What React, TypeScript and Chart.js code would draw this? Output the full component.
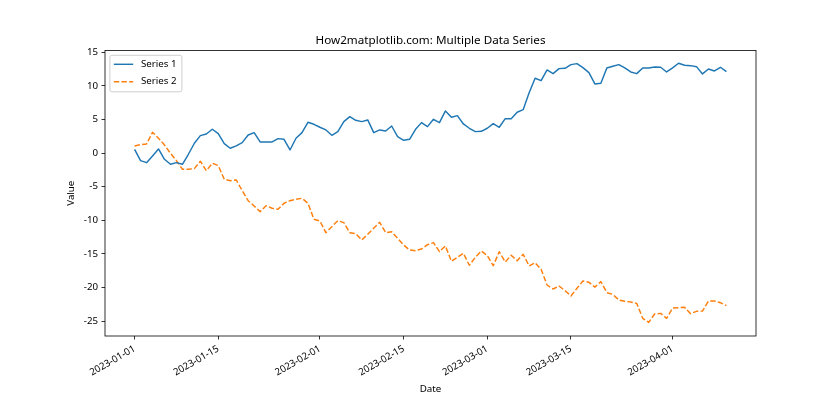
import React, { useEffect, useRef } from 'react';
import { Chart, registerables } from 'chart.js';

Chart.register(...registerables);

// ---- data ----
const dayIndex: number[] = Array.from({ length: 100 }, (_, i) => i); // days since 2023-01-01
const series1: number[] = [
  0.56, -1.13, -1.43, -0.43, 0.61, -0.93, -1.67, -1.43, -1.67, -0.18,
  1.46, 2.59, 2.84, 3.54, 2.89, 1.4, 0.71, 1.06, 1.55, 2.69,
  3.04, 1.65, 1.65, 1.65, 2.15, 2.05, 0.46, 2.2, 3.04, 4.58,
  4.28, 3.84, 3.44, 2.65, 3.19, 4.68, 5.42, 4.88, 4.68, 4.93,
  3.04, 3.44, 3.29, 4.03, 2.44, 1.9, 2.05, 3.54, 4.53, 3.93,
  5.03, 4.53, 6.27, 5.33, 5.57, 4.33, 3.69, 3.19, 3.24, 3.69,
  4.38, 3.84, 5.12, 5.12, 6.07, 6.46, 8.99, 11.13, 10.78, 12.37,
  11.82, 12.57, 12.62, 13.16, 13.31, 12.71, 11.97, 10.29, 10.39, 12.67,
  12.92, 13.16, 12.67, 12.07, 11.82, 12.67, 12.67, 12.82, 12.77, 12.07,
  12.67, 13.37, 13.07, 13.01, 12.86, 11.78, 12.52, 12.22, 12.77, 12.12,
];
const series2: number[] = [
  1.06, 1.25, 1.35, 3.09, 2.2, 1.2, -0.03, -1.13, -2.41, -2.41,
  -2.32, -1.22, -2.62, -1.52, -1.87, -3.9, -4.11, -4.0, -5.6, -7.09,
  -7.88, -8.72, -7.83, -8.22, -8.37, -7.47, -7.09, -6.88, -6.73, -7.47,
  -9.86, -10.11, -11.85, -10.96, -10.06, -10.36, -11.85, -12.0, -12.94, -12.09,
  -11.2, -10.3, -11.85, -11.7, -12.69, -13.68, -14.43, -14.53, -14.28, -13.64,
  -13.34, -14.68, -13.83, -16.11, -15.52, -14.92, -16.7, -15.52, -14.58, -15.27,
  -16.76, -14.68, -16.21, -15.22, -16.02, -15.07, -16.81, -16.32, -17.3, -19.64,
  -20.23, -19.79, -20.48, -21.27, -20.13, -19.04, -19.24, -19.95, -19.14, -20.78,
  -21.03, -21.87, -22.07, -22.17, -22.37, -24.6, -25.2, -23.95, -23.86, -24.6,
  -23.06, -23.01, -22.96, -23.91, -23.56, -23.51, -22.02, -22.02, -22.27, -22.72,
];
const seriesNames = ['Series 1', 'Series 2'];
const xTickDays = [0, 14, 31, 45, 59, 73, 90];
const xTickLabels = ['2023-01-01', '2023-01-15', '2023-02-01', '2023-02-15', '2023-03-01', '2023-03-15', '2023-04-01'];
const yTickValues = [-25, -20, -15, -10, -5, 0, 5, 10, 15];
const chartTitle = 'How2matplotlib.com: Multiple Data Series';
const xTitle = 'Date';
const yTitle = 'Value';

const FONT = "'Noto Sans', 'DejaVu Sans', sans-serif";
const C1 = '#1f77b4';
const C2 = '#ff7f0e';
const DASH = [5.4, 2.3];

const decorPlugin = {
  id: 'mplDecor',
  afterDatasetsDraw(chart: any) {
    const { ctx, chartArea: a } = chart;
    ctx.save();
    // frame (all four spines)
    ctx.strokeStyle = '#000';
    ctx.lineWidth = 0.8;
    ctx.setLineDash([]);
    ctx.strokeRect(a.left, a.top, a.right - a.left, a.bottom - a.top);

    // legend (upper left, inside)
    const lx = a.left + 4.9;
    const ly = a.top + 4.9;
    const lw = 72;
    const lh = 36.5;
    ctx.beginPath();
    (ctx as any).roundRect(lx, ly, lw, lh, 2);
    ctx.fillStyle = 'rgba(255,255,255,0.8)';
    ctx.fill();
    ctx.strokeStyle = '#cccccc';
    ctx.lineWidth = 0.97;
    ctx.stroke();

    const rows = [
      { y: ly + 9.0, color: C1, dash: [] as number[], label: seriesNames[0] },
      { y: ly + 26.4, color: C2, dash: DASH, label: seriesNames[1] },
    ];
    rows.forEach((r) => {
      ctx.beginPath();
      ctx.strokeStyle = r.color;
      ctx.lineWidth = 1.46;
      ctx.setLineDash(r.dash);
      ctx.moveTo(lx + 3.9, r.y);
      ctx.lineTo(lx + 3.9 + 19.4, r.y);
      ctx.stroke();
      ctx.setLineDash([]);
      ctx.fillStyle = '#000';
      ctx.font = `9.72px ${FONT}`;
      ctx.textAlign = 'left';
      ctx.textBaseline = 'middle';
      ctx.fillText(r.label, lx + 31.1, r.y);
    });

    // title
    ctx.fillStyle = '#000';
    ctx.font = `11.67px ${FONT}`;
    ctx.textAlign = 'center';
    ctx.textBaseline = 'alphabetic';
    ctx.fillText(chartTitle, (a.left + a.right) / 2, a.top - 6);
    ctx.restore();
  },
};

export default function App() {
  const canvasRef = useRef<HTMLCanvasElement | null>(null);

  useEffect(() => {
    document.body.style.margin = '0';
    const canvas = canvasRef.current;
    if (!canvas) return;
    const chart = new Chart(canvas, {
      type: 'line',
      data: {
        datasets: [
          {
            label: seriesNames[0],
            data: dayIndex.map((d, i) => ({ x: d, y: series1[i] })),
            borderColor: C1,
            borderWidth: 1.46,
            pointRadius: 0,
            tension: 0,
            fill: false,
            borderJoinStyle: 'round',
          },
          {
            label: seriesNames[1],
            data: dayIndex.map((d, i) => ({ x: d, y: series2[i] })),
            borderColor: C2,
            borderWidth: 1.46,
            borderDash: DASH,
            pointRadius: 0,
            tension: 0,
            fill: false,
            borderJoinStyle: 'round',
          },
        ],
      },
      options: {
        responsive: false,
        animation: false,
        devicePixelRatio: 1,
        layout: { padding: { left: 0, right: 84, top: 50.4, bottom: 0 } },
        plugins: {
          legend: { display: false },
          title: { display: false },
          tooltip: { enabled: false },
        },
        scales: {
          x: {
            type: 'linear',
            min: -4.95,
            max: 103.95,
            border: { display: false },
            grid: {
              display: true,
              drawOnChartArea: false,
              drawTicks: true,
              tickLength: 3.5,
              tickColor: '#000',
              lineWidth: 0.8,
            },
            afterBuildTicks: (scale: any) => {
              scale.ticks = xTickDays.map((v) => ({ value: v }));
            },
            afterFit: (scale: any) => {
              scale.height = 84;
            },
            ticks: {
              autoSkip: false,
              minRotation: 30,
              maxRotation: 30,
              padding: 3.5,
              color: '#000',
              font: { family: FONT, size: 9.72 },
              callback: (value: any) => {
                const idx = xTickDays.indexOf(Number(value));
                return idx >= 0 ? xTickLabels[idx] : '';
              },
            },
            title: {
              display: true,
              text: xTitle,
              color: '#000',
              font: { family: FONT, size: 9.72 },
              padding: { top: 0, bottom: 25 },
            },
          },
          y: {
            type: 'linear',
            min: -27.23,
            max: 15.28,
            border: { display: false },
            grid: {
              display: true,
              drawOnChartArea: false,
              drawTicks: true,
              tickLength: 3.5,
              tickColor: '#000',
              lineWidth: 0.8,
            },
            afterBuildTicks: (scale: any) => {
              scale.ticks = yTickValues.map((v) => ({ value: v }));
            },
            afterFit: (scale: any) => {
              scale.width = 105;
            },
            ticks: {
              padding: 3.5,
              color: '#000',
              font: { family: FONT, size: 9.72 },
              callback: (value: any) => String(value),
            },
            title: {
              display: true,
              text: yTitle,
              color: '#000',
              font: { family: FONT, size: 9.72 },
              padding: { top: 65, bottom: 0 },
            },
          },
        },
      },
      plugins: [decorPlugin],
    });
    return () => chart.destroy();
  }, []);

  return (
    <div style={{ width: 840, height: 420, background: '#fff' }}>
      <canvas ref={canvasRef} width={840} height={420} style={{ display: 'block' }} />
    </div>
  );
}
